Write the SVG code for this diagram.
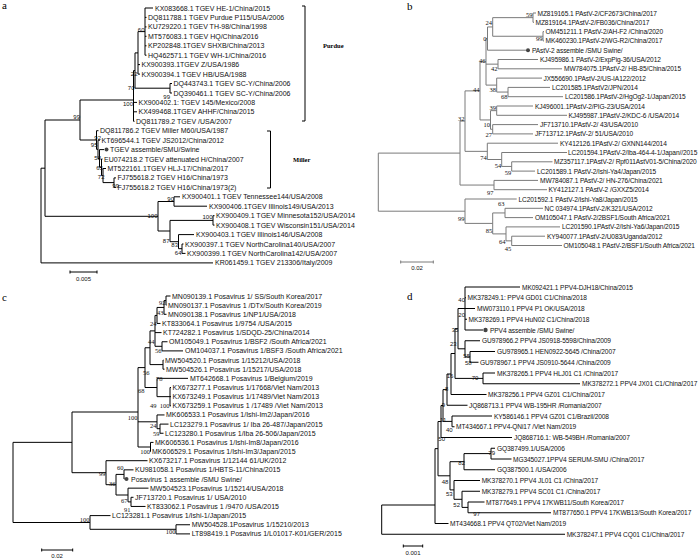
<svg xmlns="http://www.w3.org/2000/svg" width="700" height="559" viewBox="0 0 700 559">
<style>
.e{fill:none;stroke:#000;stroke-width:1}
.eb{fill:none;stroke:#7a7a7a;stroke-width:1}
.t{font-family:"Liberation Sans",Arial,sans-serif;font-size:7px;fill:#111}
.tb{font-family:"Liberation Sans",Arial,sans-serif;font-size:6.6px;letter-spacing:-0.1px;fill:#111}
.td{font-family:"Liberation Sans",Arial,sans-serif;font-size:6.6px;letter-spacing:-0.1px;fill:#111}
.s{font-family:"Liberation Sans",Arial,sans-serif;font-size:6px;fill:#111;text-anchor:end}
.sl{font-family:"Liberation Sans",Arial,sans-serif;font-size:6px;fill:#111}
.sr{font-family:"Liberation Serif","Times New Roman",serif;font-size:6.5px;fill:#111;text-anchor:end}
.pl{font-family:"Liberation Serif","Times New Roman",serif;font-size:11px;fill:#000}
.cl{font-family:"Liberation Serif","Times New Roman",serif;font-size:6.5px;font-weight:bold;fill:#000}
.sc{font-family:"Liberation Sans",Arial,sans-serif;font-size:6px;fill:#111;text-anchor:middle}
.dot{fill:#444}
</style>
<rect width="700" height="559" fill="#fff"/>

<!-- ================= PANEL A ================= -->
<text class="pl" x="2" y="9">a</text>
<g id="a-edges">
<path class="e" d="M41 168.2V262.9M41 168.2H45M41 262.9H213
M45 120V216.3M45 120H80M45 216.3H158
M80 100V140M80 100H133.5M80 140H96.5
M133.5 70.6V121.3M133.5 70.6H135M133.5 102.4H137M133.5 111.8H137M133.5 121.3H134.5
M135 52.9V88.2M135 52.9H138M135 88.2H170
M138 31.6V74.1M138 31.6H145M138 64.6H140M138 74.1H140
M145 8V55.2M145 8H153M145 17.4H146.5M145 26.9H146.5M145 36.3H146.5M145 45.8H146.5M145 55.2H146.5
M170 83.5V93M170 83.5H172M170 93H172
M96.5 130.7V149.3M96.5 130.7H98.5M96.5 149.3H98
M98 140.2V158.5M98 140.2H100M98 158.5H99.5
M99.5 149.6V167.3M99.5 149.6H104M99.5 167.3H101.5
M101.5 159V175.6M101.5 159H102.5M101.5 175.6H103
M103 168.5V182.6M103 168.5H106M103 182.6H114
M114 177.9V187.4M114 177.9H116M114 187.4H116
M158 201.5V231M158 201.5H174M158 231H170
M174 196.8V206.2M174 196.8H180M174 206.2H207
M170 220.4V241.7M170 220.4H213M170 241.7H178.5
M213 215.7V225.1M213 215.7H214.5M213 225.1H214.5
M178.5 234.6V248.7M178.5 234.6H194M178.5 248.7H182
M182 244V253.4M182 244H183.5M182 253.4H185.5"/>
<path class="e" d="M302 6H305V121H302M267 131H270.5V188H267"/>
<path class="e" d="M70 272H97M70 270.5V273.5M97 270.5V273.5"/>
</g>
<g id="a-support">
<text class="s" x="144.5" y="32">60</text>
<text class="s" x="137.5" y="76">22</text>
<text class="s" x="134.5" y="90">70</text>
<text class="s" x="133" y="106">100</text>
<text class="s" x="170" y="99">99</text>
<text class="s" x="80" y="119">99</text>
<text class="s" x="101" y="140">92</text>
<text class="s" x="97.5" y="147">95</text>
<text class="s" x="101" y="160">58</text>
<text class="s" x="103" y="170">65</text>
<text class="s" x="104.5" y="179">72</text>
<text class="s" x="119" y="188">99</text>
<text class="s" x="174" y="201">90</text>
<text class="s" x="157.5" y="218">100</text>
<text class="s" x="212.5" y="219">100</text>
<text class="s" x="169.5" y="243">87</text>
<text class="s" x="178" y="246.5">83</text>
<text class="s" x="181.5" y="255">64</text>
</g>
<g id="a-clades">
<text class="cl" x="323" y="48">Purdue</text>
<text class="cl" x="293" y="162">Miller</text>
</g>
<text class="sc" x="83.5" y="281">0.005</text>
<g id="a01"><text class="t" x="155" y="10.5">KX083668.1 TGEV HE-1/China/2015</text></g>
<g id="a02"><text class="t" x="148" y="19.9">DQ811788.1 TGEV Purdue P115/USA/2006</text></g>
<g id="a03"><text class="t" x="148" y="29.4">KU729220.1 TGEV TH-98/China/1998</text></g>
<g id="a04"><text class="t" x="148" y="38.8">MT576083.1 TGEV HQ/China/2016</text></g>
<g id="a05"><text class="t" x="148" y="48.3">KP202848.1TGEV SHXB/China/2013</text></g>
<g id="a06"><text class="t" x="148" y="57.7">HQ462571.1 TGEV WH-1/China/2016</text></g>
<g id="a07"><text class="t" x="141.5" y="67.1">KX900393.1TGEV Z/USA/1986</text></g>
<g id="a08"><text class="t" x="141.5" y="76.6">KX900394.1 TGEV HB/USA/1988</text></g>
<g id="a09"><text class="t" x="173.5" y="86">DQ443743.1 TGEV SC-Y/China/2006</text></g>
<g id="a10"><text class="t" x="173.5" y="95.5">DQ390461.1 TGEV SC-Y/China/2006</text></g>
<g id="a11"><text class="t" x="138.5" y="104.9">KX900402.1: TGEV 145/Mexico/2008</text></g>
<g id="a12"><text class="t" x="138.5" y="114.3">KX499468.1TGEV AHHF/China/2015</text></g>
<g id="a13"><text class="t" x="136" y="123.8">DQ811789.2 TGEV /USA/2007</text></g>
<g id="a14"><text class="t" x="100" y="133.2">DQ811786.2 TGEV Miller M60/USA/1987</text></g>
<g id="a15"><text class="t" x="101.5" y="142.7">KT696544.1 TGEV JS2012/China/2012</text></g>
<g id="a16"><circle class="dot" cx="106.5" cy="149.6" r="2"/><text class="t" x="110" y="152.1">TGEV assemble/SMU/Swine</text></g>
<g id="a17"><text class="t" x="104" y="161.5">EU074218.2 TGEV attenuated H/China/2007</text></g>
<g id="a18"><text class="t" x="107.5" y="171">MT522161.1TGEV HLJ-17/China/2017</text></g>
<g id="a19"><text class="t" x="117.5" y="180.4">FJ755618.2 TGEV H16/China/1973</text></g>
<g id="a20"><text class="t" x="117.5" y="189.9">FJ755618.2 TGEV H16/China/1973(2)</text></g>
<g id="a21"><text class="t" x="182" y="199.3">KX900401.1 TGEV Tennessee144/USA/2008</text></g>
<g id="a22"><text class="t" x="209" y="208.7">KX900406.1TGEV Illinois149/USA/2013</text></g>
<g id="a23"><text class="t" x="216" y="218.2">KX900409.1 TGEV Minnesota152/USA/2014</text></g>
<g id="a24"><text class="t" x="216" y="227.6">KX900408.1 TGEV Wisconsin151/USA/2014</text></g>
<g id="a25"><text class="t" x="196" y="237.1">KX900403.1 TGEV Illinois146/USA/2008</text></g>
<g id="a26"><text class="t" x="185" y="246.5">KX900397.1 TGEV NorthCarolina140/USA/2007</text></g>
<g id="a27"><text class="t" x="187" y="255.9">KX900399.1 TGEV NorthCarolina142/USA/2007</text></g>
<g id="a28"><text class="t" x="215" y="265.4">KR061459.1 TGEV 213306/Italy/2009</text></g>

<!-- ================= PANEL B ================= -->
<text class="pl" x="407" y="10">b</text>
<g id="b-edges">
<path class="eb" d="M378.3 153.1V211.2M378.3 153.1H460M378.3 211.2H465
M460 121.1V185.05M460 121.1H465M460 185.05H494
M465 90.9V151.35M465 90.9H480M465 151.35H487.3
M480 61.85V119.95M480 61.85H486M480 119.95H490.5
M486 38.6V85.1M486 38.6H487.5M486 64.15H498M486 85.1H496.7
M487.5 26.95V50.2M487.5 26.95H492.7M487.5 50.2H526
M492.7 17.65V36.25M492.7 17.65H533M492.7 36.25H543
M533 13V22.3M533 13H536M533 22.3H534
M543 31.6V40.9M543 31.6H544M543 40.9H544
M498 59.5V68.8M498 59.5H538M498 68.8H562
M496.7 78.1V92.05M496.7 78.1H542M496.7 92.05H508
M508 87.4V96.7M508 87.4H550M508 96.7H563
M490.5 110.65V129.25M490.5 110.65H496.7M490.5 129.25H492.7
M496.7 106V115.3M496.7 106H533M496.7 115.3H567
M492.7 124.6V133.9M492.7 124.6H538M492.7 133.9H533
M487.3 143.2V159.5M487.3 143.2H558M487.3 159.5H501.7
M501.7 152.5V166.45M501.7 152.5H567M501.7 166.45H511.7
M511.7 161.8V171.1M511.7 161.8H552.5M511.7 171.1H535
M494 180.4V189.7M494 180.4H538M494 189.7H547
M465 199V223.4M465 199H516.7M465 223.4H492.7
M492.7 212.95V233.9M492.7 212.95H505M492.7 233.9H506
M505 208.3V217.6M505 208.3H543M505 217.6H533
M506 226.9V240.85M506 226.9H560M506 240.85H511.7
M511.7 236.2V245.5M511.7 236.2H545M511.7 245.5H562"/>
<path class="eb" d="M400.7 262H433.3M400.7 260.5V263.5M433.3 260.5V263.5"/>
</g>
<g id="b-support">
<text class="sr" x="532.5" y="16.5">59</text>
<text class="sr" x="542.5" y="41">99</text>
<text class="sr" x="492" y="25">24</text>
<text class="sr" x="486.5" y="41">0</text>
<text class="sr" x="485.5" y="62.5">46</text>
<text class="sr" x="497.5" y="70.5">42</text>
<text class="sr" x="496" y="91.5">38</text>
<text class="sr" x="507.5" y="99">68</text>
<text class="sr" x="479.5" y="91.5">44</text>
<text class="sr" x="496" y="109.5">39</text>
<text class="sr" x="490" y="126.5">10</text>
<text class="sr" x="492" y="136.5">27</text>
<text class="sr" x="464.5" y="120.5">32</text>
<text class="sr" x="486.8" y="159.5">74</text>
<text class="sr" x="501.2" y="167.5">54</text>
<text class="sr" x="511.2" y="174.5">59</text>
<text class="sr" x="493.5" y="194.5">97</text>
<text class="sr" x="504.5" y="205.5">63</text>
<text class="sr" x="464.5" y="220.5">99</text>
<text class="sr" x="492.2" y="232.5">85</text>
<text class="sr" x="505.5" y="243.5">64</text>
<text class="sr" x="511.2" y="250.5">45</text>
</g>
<text class="sc" x="417" y="270">0.02</text>
<g id="b01"><text class="tb" x="537.5" y="15.5">MZ819165.1 PAstV-2/CF2673/China/2017</text></g>
<g id="b02"><text class="tb" x="535.5" y="24.8">MZ819164.1PAstV-2/FB036/China/2017</text></g>
<g id="b03"><text class="tb" x="545.5" y="34.1">OM451211.1 PAstV-2/AH-F2 /China/2020</text></g>
<g id="b04"><text class="tb" x="545.5" y="43.4">MK460230.1PAstV-2/WG-R2/China/2017</text></g>
<g id="b05"><circle class="dot" cx="528" cy="50.2" r="2"/><text class="tb" x="532" y="52.7">PAstV-2 assemble /SMU Swine/</text></g>
<g id="b06"><text class="tb" x="540" y="62">KJ495986.1 PAstV-2/ExpPig-36/USA/2012</text></g>
<g id="b07"><text class="tb" x="564" y="71.3">MW784075.1PAstV-2/ HB-85/China/2015</text></g>
<g id="b08"><text class="tb" x="543.5" y="80.6">JX556690.1PAstV-2/US-IA122/2012</text></g>
<g id="b09"><text class="tb" x="552" y="89.9">LC201585.1PAstV2/JPN/2014</text></g>
<g id="b10"><text class="tb" x="565" y="99.2">LC201586.1PAstV-2/HgOg2-1/Japan/2015</text></g>
<g id="b11"><text class="tb" x="535" y="108.5">KJ496001.1PAstV-2/PIG-23/USA/2014</text></g>
<g id="b12"><text class="tb" x="568.5" y="117.8">KJ495987.1PAstV-2/KDC-6 /USA/2014</text></g>
<g id="b13"><text class="tb" x="540" y="127.1">JF713710.1PAstV-2/ 43/USA/2010</text></g>
<g id="b14"><text class="tb" x="535" y="136.4">JF713712.1PAstV-2/ 51/USA/2010</text></g>
<g id="b15"><text class="tb" x="560" y="145.7">KY412126.1PAstV-2/ GXNN144/2014</text></g>
<g id="b16"><text class="tb" x="568" y="155">LC201594.1PAstV-2/Iba-464-4-1/Japan//2015</text></g>
<g id="b17"><text class="tb" x="554" y="164.3">MZ357117.1PAstV-2/ Rpf011AstV01-5/China/2020</text></g>
<g id="b18"><text class="tb" x="537" y="173.6">LC201589.1 PAstV-2/Ishi-Ya4/Japan/2015</text></g>
<g id="b19"><text class="tb" x="540" y="182.9">MW784087.1 PAstV-2/ HN-276/China/2021</text></g>
<g id="b20"><text class="tb" x="548.5" y="192.2">KY412127.1 PAstV-2 /GXXZ5/2014</text></g>
<g id="b21"><text class="tb" x="518.5" y="201.5">LC201592.1 PAstV-2/Ishi-Ya8/Japan/2015</text></g>
<g id="b22"><text class="tb" x="544.5" y="210.8">NC 034974.1PAstV-2/K321/USA/2012</text></g>
<g id="b23"><text class="tb" x="535" y="220.1">OM105047.1 PAstV-2/2BSF1/South Africa/2021</text></g>
<g id="b24"><text class="tb" x="562" y="229.4">LC201590.1PAstV-2/Ishi-Ya6/Japan/2015</text></g>
<g id="b25"><text class="tb" x="547" y="238.7">KY940077.1PAstV-2/U083/Uganda/2012</text></g>
<g id="b26"><text class="tb" x="563.5" y="248">OM105048.1 PAstV-2/BSF1/South Africa/2021</text></g>

<!-- ================= PANEL C ================= -->
<text class="pl" x="2" y="301">c</text>
<g id="c-edges">
<path class="e" d="M13 442.35V522.5M13 442.35H72M13 522.5H90
M72 412V472.7M72 412H138M72 472.7H106
M138 367.6V447M138 367.6H145M138 421.8H157M138 447H150.5
M145 347.75V387.5M145 347.75H150M145 387.5H157
M150 330.9V364.6M150 330.9H155M150 364.6H163
M155 315.45V346.3M155 315.45H157M155 332.6H161.5M155 346.3H162
M157 307.45V323.45M157 307.45H164M157 323.45H160.5
M164 300.6V314.3M164 300.6H166M164 314.3H166.5
M166 296V305.15M166 296H170.5M166 305.15H166.5
M162 341.75V350.9M162 341.75H167.5M162 350.9H183
M163 360.05V369.2M163 360.05H163.5M163 369.2H164.5
M157 378.35V396.65M157 378.35H188M157 396.65H170
M170 387.5V405.8M170 387.5H171M170 396.65H171M170 405.8H171
M157 414.95V428.7M157 414.95H164.5M157 428.7H160
M160 424.1V433.25M160 424.1H168.5M160 433.25H163.5
M150.5 442.4V451.55M150.5 442.4H153.5M150.5 451.55H151
M106 460.7V484.7M106 460.7H147.5M106 484.7H116
M116 474.4V495M116 474.4H124M116 495H128
M124 469.85V479M124 469.85H133.5M124 479H124.5
M128 488.15V501.9M128 488.15H148.5M128 501.9H131
M131 497.3V506.45M131 497.3H133.5M131 506.45H145.5
M90 515.6V529.3M90 515.6H110.5M90 529.3H176
M176 524.75V533.9M176 524.75H190M176 533.9H190"/>
<path class="e" d="M41.7 550H72.7M41.7 548.5V551.5M72.7 548.5V551.5"/>
</g>
<g id="c-support">
<text class="sr" x="165.5" y="305">92</text>
<text class="sr" x="163.5" y="314.5">43</text>
<text class="sr" x="156.5" y="325.5">24</text>
<text class="sr" x="154.5" y="343.5">44</text>
<text class="sr" x="161.5" y="353">56</text>
<text class="sr" x="149.5" y="375">56</text>
<text class="sr" x="162.5" y="380.5">78</text>
<text class="sr" x="144.5" y="393">68</text>
<text class="sr" x="156.5" y="408">49</text>
<text class="sr" x="169.5" y="408">100</text>
<text class="sr" x="137.5" y="420">100</text>
<text class="sr" x="156.5" y="427.5">24</text>
<text class="sr" x="159.5" y="436">59</text>
<text class="sr" x="150" y="453.5">100</text>
<text class="sr" x="123.5" y="470">60</text>
<text class="sr" x="105.5" y="476">99</text>
<text class="sr" x="115.5" y="485.5">36</text>
<text class="sr" x="127.5" y="503">67</text>
<text class="sr" x="130.5" y="512">91</text>
<text class="sr" x="89.5" y="522">100</text>
<text class="sr" x="175.5" y="534">100</text>
</g>
<text class="sc" x="57" y="557.5">0.02</text>
<g id="c01"><text class="t" x="172" y="298.5">MN090139.1 Posavirus 1/ SS/South Korea/2017</text></g>
<g id="c02"><text class="t" x="168" y="307.65">MN090137.1 Posavirus 1 /DTx/South Korea/2019</text></g>
<g id="c03"><text class="t" x="168" y="316.8">MN090138.1 Posavirus 1/NP1/USA/2018</text></g>
<g id="c04"><text class="t" x="162" y="325.95">KT833064.1 Posavirus 1/9754 /USA/2015</text></g>
<g id="c05"><text class="t" x="163" y="335.1">KT724282.1 Posavirus 1/SDQD-25/China/2014</text></g>
<g id="c06"><text class="t" x="169" y="344.25">OM105049.1 Posavirus 1/BSF2 /South Africa/2021</text></g>
<g id="c07"><text class="t" x="185" y="353.4">OM104037.1 Posavirus 1/BSF3 /South Africa/2021</text></g>
<g id="c08"><text class="t" x="165" y="362.55">MW504520.1 Posavirus 1/15212/USA/2018</text></g>
<g id="c09"><text class="t" x="166" y="371.7">MW504526.1 Posavirus 1/15217/USA/2018</text></g>
<g id="c10"><text class="t" x="190" y="380.85">MT642668.1 Posavirus 1/Belgium/2019</text></g>
<g id="c11"><text class="t" x="172.5" y="390">KX673277.1 Posavirus 1/17668/Viet Nam/2013</text></g>
<g id="c12"><text class="t" x="172.5" y="399.15">KX673249.1 Posavirus 1/17489/Viet Nam/2013</text></g>
<g id="c13"><text class="t" x="172.5" y="408.3">KX673259.1 Posavirus 1 /17489 /Viet Nam/2013</text></g>
<g id="c14"><text class="t" x="166" y="417.45">MK606533.1 Posavirus 1/Ishi-Im2/Japan/2016</text></g>
<g id="c15"><text class="t" x="170" y="426.6">LC123279.1 Posavirus 1/ Iba 26-487/Japan/2015</text></g>
<g id="c16"><text class="t" x="165" y="435.75">LC123280.1 Posavirus 1/Iba 26-506/Japan/2015</text></g>
<g id="c17"><text class="t" x="155" y="444.9">MK606536.1 Posavirus 1/Ishi-Im8/Japan/2016</text></g>
<g id="c18"><text class="t" x="152" y="454.05">MK606529.1 Posavirus 1/Ishi-Im3/Japan/2015</text></g>
<g id="c19"><text class="t" x="149" y="463.2">KX673217.1 Posavirus 1/12144 61/UK/2012</text></g>
<g id="c20"><text class="t" x="135" y="472.35">KU981058.1 Posavirus 1/HBTS-11/China/2015</text></g>
<g id="c21"><circle class="dot" cx="126.5" cy="479" r="2"/><text class="t" x="131" y="481.5">Posavirus 1 assemble /SMU Swine/</text></g>
<g id="c22"><text class="t" x="150" y="490.65">MW504523.1Posavirus 1/15214/USA/2018</text></g>
<g id="c23"><text class="t" x="135" y="499.8">JF713720.1 Posavirus 1/ USA/2010</text></g>
<g id="c24"><text class="t" x="147" y="508.95">KT833062.1 Posavirus 1 /9470 /USA/2015</text></g>
<g id="c25"><text class="t" x="112" y="518.1">LC123281.1 Posavirus 1/Ishi-1/Japan/2015</text></g>
<g id="c26"><text class="t" x="191.7" y="527.25">MW504528.1Posavirus 1/15210/2013</text></g>
<g id="c27"><text class="t" x="191.7" y="536.4">LT898419.1 Posavirus 1/L01017-K01/GER/2015</text></g>

<!-- ================= PANEL D ================= -->
<text class="pl" x="407" y="300">d</text>
<g id="d-edges">
<path class="e" d="M381.7 505V534.25M381.7 505H435M381.7 534.25H565
M435 448.65V523.5M435 448.65H438M435 523.5H448.5
M438 421.5V475.8M438 421.5H441M438 475.8H450
M441 405.5V437.5M441 405.5H443M441 437.5H512
M443 389.6V421.4M443 389.6H447M443 421.4H452
M447 374V405.25M447 374H451M447 405.25H467.5
M451 353.5V394.5M451 353.5H455M451 394.5H486.5
M455 328.7V378.4M455 328.7H458M455 378.4H483
M458 308.5V348.8M458 308.5H465M458 348.8H465
M465 287V330M465 287H520M465 297.75H466M465 308.5H475M465 319.25H467M465 330H483
M465 340.75V356.9M465 340.75H480M465 356.9H470
M470 351.5V362.25M470 351.5H495M470 362.25H478.5
M483 373V383.75M483 373H495M483 383.75H580
M452 416V426.75M452 416H492M452 426.75H454.5
M450 461.7V489.9M450 461.7H464M450 489.9H454
M464 453.6V469.75M464 453.6H491M464 469.75H495
M491 448.25V459M491 448.25H495M491 459H511.5
M454 480.5V499.3M454 480.5H480M454 499.3H462
M462 491.25V507.4M462 491.25H480M462 507.4H468
M468 502V512.75M468 502H484.5M468 512.75H551"/>
<path class="e" d="M403.3 546H422.7M403.3 544.5V547.5M422.7 544.5V547.5"/>
</g>
<g id="d-support">
<text class="sl" x="458.3" y="302">40</text>
<text class="sl" x="458.3" y="317">20</text>
<text class="sl" x="451.7" y="331.5">35</text>
<text class="sl" x="450" y="346">23</text>
<text class="sl" x="463.3" y="357.5">55</text>
<text class="sl" x="465" y="364.5">58</text>
<text class="sl" x="446.7" y="378">16</text>
<text class="sl" x="471.7" y="380">70</text>
<text class="sl" x="445" y="391">8</text>
<text class="sl" x="441.7" y="406.5">9</text>
<text class="sl" x="440" y="421.5">11</text>
<text class="sl" x="446" y="432">40</text>
<text class="sl" x="438.3" y="441">50</text>
<text class="sl" x="488.3" y="455">79</text>
<text class="sl" x="458.3" y="465">82</text>
<text class="sl" x="441.7" y="484">48</text>
<text class="sl" x="446" y="496">53</text>
<text class="sl" x="453.3" y="507">52</text>
<text class="sl" x="473.3" y="516">97</text>
</g>
<text class="sc" x="413" y="555">0.001</text>
<g id="d01"><text class="td" x="522" y="289.5">MK092421.1 PPV4-DJH18/China/2015</text></g>
<g id="d02"><text class="td" x="467.5" y="300.25">MK378249.1: PPV4 GD01 C1/China/2018</text></g>
<g id="d03"><text class="td" x="477" y="311">MW073110.1 PPV4 P1 OK/USA/2018</text></g>
<g id="d04"><text class="td" x="468.5" y="321.75">MK378269.1 PPV4 HuN02 C1/China/2018</text></g>
<g id="d05"><circle class="dot" cx="485.5" cy="330" r="2.2"/><text class="td" x="490" y="332.5">PPV4 assemble /SMU Swine/</text></g>
<g id="d06"><text class="td" x="482" y="343.25">GU978966.2 PPV4 JS0918-5598/China/2009</text></g>
<g id="d07"><text class="td" x="497" y="354">GU978965.1 HEN0922-5645 /China/2007</text></g>
<g id="d08"><text class="td" x="480" y="364.75">GU978967.1 PPV4 JS0910-5644 /China/2009</text></g>
<g id="d09"><text class="td" x="497" y="375.5">MK378265.1 PPV4 HLJ01 C1 /China/2017</text></g>
<g id="d10"><text class="td" x="582" y="386.25">MK378272.1 PPV4 JX01 C1/China/2017</text></g>
<g id="d11"><text class="td" x="488" y="397">MK378256.1 PPV4 GZ01 C1/China/2017</text></g>
<g id="d12"><text class="td" x="469" y="407.75">JQ868713.1 PPV4 WB-195HR /Romania/2007</text></g>
<g id="d13"><text class="td" x="494" y="418.5">KY586146.1 PPV4 GZ01 C1/Brazil/2008</text></g>
<g id="d14"><text class="td" x="456" y="429.25">MT434667.1 PPV4-QNi17 /Viet Nam/2019</text></g>
<g id="d15"><text class="td" x="514" y="440">JQ868716.1: WB-549BH /Romania/2007</text></g>
<g id="d16"><text class="td" x="497" y="450.75">GQ387499.1/USA/2006</text></g>
<g id="d17"><text class="td" x="513" y="461.5">MG345027.1PPV4 SERUM-SMU /China/2017</text></g>
<g id="d18"><text class="td" x="497" y="472.25">GQ387500.1 /USA/2006</text></g>
<g id="d19"><text class="td" x="481.7" y="483">MK378270.1 PPV4 JL01 C1 /China/2017</text></g>
<g id="d20"><text class="td" x="481.7" y="493.75">MK378279.1 PPV4 SC01 C1 /China/2017</text></g>
<g id="d21"><text class="td" x="486" y="504.5">MT877649.1 PPV4 17KWB11/South Korea/2017</text></g>
<g id="d22"><text class="td" x="553" y="515.25">MT877650.1 PPV4 17KWB13/South Korea/2017</text></g>
<g id="d23"><text class="td" x="450" y="526">MT434668.1 PPV4 QT02/Viet Nam/2019</text></g>
<g id="d24"><text class="td" x="566.7" y="536.75">MK378247.1 PPV4 CQ01 C1/China/2017</text></g>
</svg>
